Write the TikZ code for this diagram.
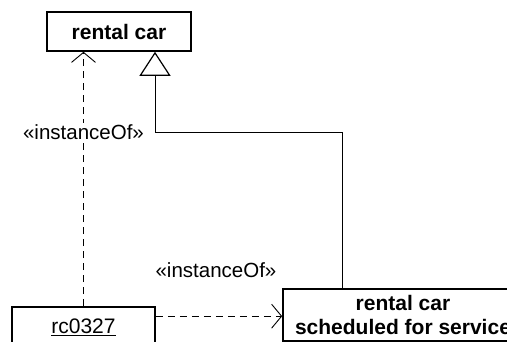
\documentclass[tikz,border=0pt]{standalone}
\usepackage{fontspec}
\setmainfont{Liberation Sans}
\usetikzlibrary{arrows.meta,calc}
\begin{document}
\begin{tikzpicture}[x=1pt,y=1pt,
  cls/.style={draw=black, line width=1.6pt, fill=white, inner sep=0pt, font=\fontsize{21}{24}\selectfont\bfseries, align=center},
  obj/.style={draw=black, line width=1.6pt, fill=white, inner sep=0pt, font=\fontsize{21}{24}\selectfont},
  dep/.style={draw=black, line width=0.9pt, dash pattern=on 7pt off 5pt, -{Straight Barb[length=10pt,width=24pt,line width=0.9pt]}},
  inherit/.style={draw=black, line width=0.9pt, -{Triangle[open,length=24pt,width=31pt,line width=1.2pt,fill=white]}},
  lbl/.style={fill=white, inner sep=1pt, font=\fontsize{20.5}{24}\selectfont}]
\useasboundingbox (0,0) rectangle (507,-342);
\clip (0,0) rectangle (507,-342);
\node[cls, minimum width=144pt, minimum height=39pt] (car) at (119,-31.5) {rental car};
\node[obj, minimum width=143pt, minimum height=40pt] (inst) at (83.5,-327) {\underline{rc0327}};
\node[cls, minimum width=240pt, minimum height=52pt] (svc) at (403,-315) {rental car\\scheduled for service};
\coordinate (b1) at (342,-132);
\coordinate (b2) at (155,-132);
\coordinate (h1) at ($(inst.north east)+(0,-10)$);
\draw[inherit] (b1 |- svc.north) -- (b1) -- (b2) -- (b2 |- car.south);
\draw[dep] (inst.north) -- (inst.north |- car.south);
\draw[dep] (h1) -- (svc.west |- h1);
\node[lbl] (l1) at (83.5,-132) {«instanceOf»};
\node[lbl] (l2) at (216,-270) {«instanceOf»};
\end{tikzpicture}
\end{document}
